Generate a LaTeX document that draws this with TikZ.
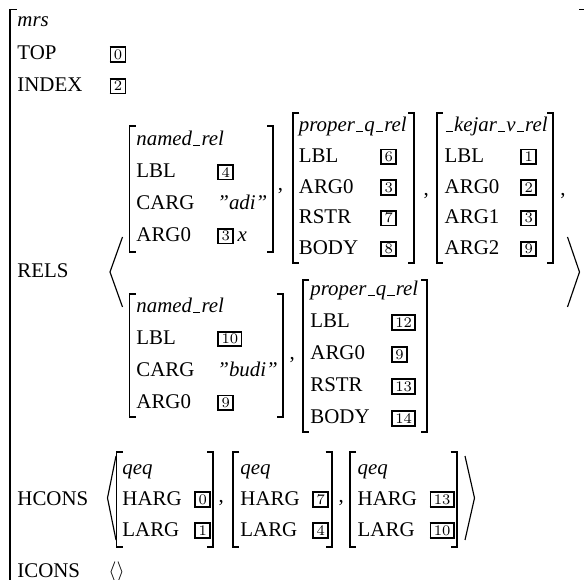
\documentclass[tikz,border=0pt]{standalone}
\usepackage[no-math]{fontspec}
\setmainfont{Liberation Serif}
\usepackage{tikz}

\newcommand{\avmtag}[1]{\raisebox{0.4pt}{\setlength{\fboxsep}{0.8pt}\setlength{\fboxrule}{0.8pt}\fbox{\scriptsize\kern0.4pt$#1$\kern0.4pt}}}
\newcommand{\usc}{\kern.05em\rule{.35em}{.45pt}\kern.05em}

\begin{document}
\begin{tikzpicture}[x=0.4785pt, y=-0.4785pt,
  lab/.style={anchor=base west, inner sep=0pt},
  typ/.style={lab, font=\itshape},
  brk/.style={line width=0.8pt},
  ang/.style={line width=0.55pt}]
\useasboundingbox (0,0) rectangle (584,580);
\clip (0,0) rectangle (584,580);

% outer mrs brackets
\draw[brk] (16.5,9.5) -| (10,595);
\draw[brk] (579,9.5) -| (586,595);

% top features
\node[typ] (mrs) at (17,26.5) {mrs};
\node[lab] (top) at (17,60) {TOP};
\node[lab] (topv) at (109.3,60) {\avmtag{0}};
\node[lab] (index) at (17,91.7) {INDEX};
\node[lab] (indexv) at (109.3,91.7) {\avmtag{2}};

% RELS list
\node[lab] (rels) at (17,278) {RELS};
\draw[ang] (122.5,237) -- (110,272) -- (122.5,307);
\draw[ang] (567.5,237) -- (579.5,272) -- (567.5,307);

% named_rel (adi)
\node[typ] (na) at (136,146) {named\usc rel};
\foreach \a/\v [count=\i] in {LBL/\avmtag{4}, CARG/\textit{''adi''}, ARG0/{\avmtag{3}\,\textit{x}}}
  \node[lab] (na-\i) at (136,146+31.9*\i) {\a} node[lab] (nav-\i) at (217,146+31.9*\i) {\v};
\node[lab] (c1) at (277.5,191) {,};

% proper_q_rel
\node[typ] (pa) at (298.5,131.7) {proper\usc q\usc rel};
\foreach \a/\v [count=\i] in {LBL/6, ARG0/3, RSTR/7, BODY/8}
  \node[lab] (pa-\i) at (298.5,131.7+30.7*\i) {\a} node[lab] (pav-\i) at (380,131.7+30.7*\i) {\avmtag{\v}};
\node[lab] (c2) at (423.3,195.5) {,};

% _kejar_v_rel
\node[typ] (ka) at (444.3,131.7) {\usc kejar\usc v\usc rel};
\foreach \a/\v [count=\i] in {LBL/1, ARG0/2, ARG1/3, ARG2/9}
  \node[lab] (ka-\i) at (444.3,131.7+30.7*\i) {\a} node[lab] (kav-\i) at (520,131.7+30.7*\i) {\avmtag{\v}};
\node[lab] (c3) at (560,195.5) {,};

% named_rel (budi)
\node[typ] (nb) at (136,312.7) {named\usc rel};
\foreach \a/\v [count=\i] in {LBL/\avmtag{10}, CARG/\textit{''budi''}, ARG0/\avmtag{9}}
  \node[lab] (nb-\i) at (136,312.7+31.9*\i) {\a} node[lab] (nbv-\i) at (217,312.7+31.9*\i) {\v};
\node[lab] (c4) at (289.3,360) {,};

% proper_q_rel
\node[typ] (pb) at (310,296) {proper\usc q\usc rel};
\foreach \a/\v [count=\i] in {LBL/12, ARG0/9, RSTR/13, BODY/14}
  \node[lab] (pb-\i) at (310,296+32*\i) {\a} node[lab] (pbv-\i) at (390.7,296+32*\i) {\avmtag{\v}};

% HCONS list
\node[lab] (hcons) at (17,505) {HCONS};
\draw[ang] (116,456) -- (107.5,498) -- (116,540);
\draw[ang] (465,456) -- (474.5,498) -- (465,540);
\foreach \x/\h/\l [count=\j] in {122/0/1, 240/7/4, 357.3/13/10} {
  \node[typ] (q\j) at (\x,475) {qeq};
  \node[lab] (q\j-h) at (\x,505) {HARG};
  \node[lab] (q\j-l) at (\x,536) {LARG};
  \node[lab] (q\j-hv) at (\x+72,505) {\avmtag{\h}};
  \node[lab] (q\j-lv) at (\x+72,536) {\avmtag{\l}};
}
\node[lab] (c5) at (218.3,502) {,};
\node[lab] (c6) at (338.3,502) {,};

% ICONS
\node[lab] (icons) at (17,577.5) {ICONS};
\node[lab] (iconsv) at (108,577.5) {$\langle\rangle$};

% square brackets round each feature structure
\foreach \l/\r/\t/\b in {129.5/273.3/126/251.7, 293.3/414.3/113.3/263.3,
    436.7/553.3/113.3/263.3, 129.5/282.7/294/416.7, 303.3/427.3/280/432.3,
    116.5/213.3/452/546.7, 233.3/331.7/452/546.7, 350/456.7/452/546.7} {
  \draw[brk] (\l+6,\t) -| (\l,\b) -- ++(6,0);
  \draw[brk] (\r-6,\t) -| (\r,\b) -- ++(-6,0);
}
\end{tikzpicture}
\end{document}
